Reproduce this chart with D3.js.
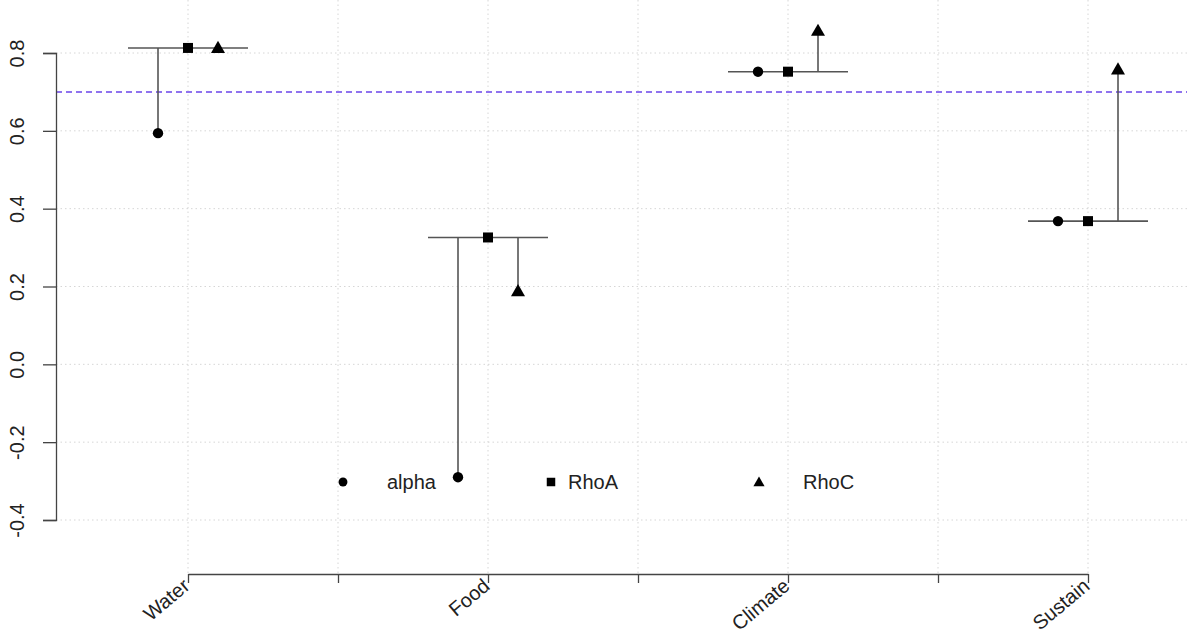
<!DOCTYPE html>
<html>
<head>
<meta charset="utf-8">
<script src="https://cdn.jsdelivr.net/npm/d3@7/dist/d3.min.js"></script>
<style>
  body { margin: 0; background: #fff; }
  svg { display: block; font-family: "Liberation Sans", Arial, sans-serif; }
</style>
</head>
<body>
<svg id="chart" width="1187" height="640"></svg>
<script>
const categories = ["Water", "Food", "Climate", "Sustain"];
const alpha = [0.594, -0.29, 0.752, 0.368];
const rhoA = [0.813, 0.326, 0.752, 0.368];
const rhoC = [0.813, 0.188, 0.857, 0.758];
const yTicks = [-0.4, -0.2, 0.0, 0.2, 0.4, 0.6, 0.8];
const xTicks = [1, 1.5, 2, 2.5, 3, 3.5, 4];
const threshold = 0.7;
const legendItems = [
  { label: "alpha", shape: "circle" },
  { label: "RhoA", shape: "square" },
  { label: "RhoC", shape: "triangle" }
];

const width = 1187, height = 640;
const svg = d3.select("#chart");

const x = d3.scaleLinear().domain([1, 4]).range([188, 1088]);
const y = d3.scaleLinear().domain([-0.4, 0.8]).range([520, 53]);
const axisY = 574, axisX = 56;

const symbols = {
  circle: d3.symbol().type(d3.symbolCircle).size(85),
  square: d3.symbol().type(d3.symbolSquare).size(100),
  triangle: d3.symbol().type(d3.symbolTriangle).size(85)
};

// grid
const grid = svg.append("g").attr("stroke", "#d6d6d6").attr("stroke-dasharray", "1.5,3");
grid.selectAll("line.h").data(yTicks).join("line")
  .attr("x1", axisX).attr("x2", width)
  .attr("y1", d => y(d)).attr("y2", d => y(d));
grid.selectAll("line.v").data(xTicks).join("line")
  .attr("x1", d => x(d)).attr("x2", d => x(d))
  .attr("y1", 0).attr("y2", axisY);

// threshold line
svg.append("line")
  .attr("x1", axisX).attr("x2", width)
  .attr("y1", y(threshold)).attr("y2", y(threshold))
  .attr("stroke", "#8f72ee").attr("stroke-width", 2).attr("stroke-dasharray", "6,4");

// y axis (R style hyphen minus)
const yAxis = svg.append("g").attr("transform", `translate(${axisX},0)`)
  .call(d3.axisLeft(y).tickValues(yTicks).tickSize(13).tickFormat(d => d.toFixed(1)));
yAxis.select(".domain").attr("stroke", "#444").attr("stroke-width", 1.3);
yAxis.selectAll(".tick line").attr("stroke", "#444").attr("stroke-width", 1.3);
yAxis.selectAll(".tick text")
  .attr("transform", "rotate(-90)")
  .attr("x", 0).attr("y", -32).attr("dy", 0)
  .attr("text-anchor", "middle")
  .attr("font-size", 20).attr("fill", "#222");

// x axis
const xAxis = svg.append("g").attr("transform", `translate(0,${axisY})`)
  .call(d3.axisBottom(x).tickValues(xTicks).tickSize(9).tickSizeOuter(0).tickFormat(() => ""));
xAxis.select(".domain").attr("stroke", "#444").attr("stroke-width", 1.3);
xAxis.selectAll(".tick line").attr("stroke", "#444").attr("stroke-width", 1.3);
svg.append("g").selectAll("text").data(categories).join("text")
  .attr("transform", (d, i) => `translate(${x(i + 1) + 3},${axisY + 14}) rotate(-40)`)
  .attr("text-anchor", "end")
  .attr("font-size", 20).attr("fill", "#222")
  .text(d => d);

// marks
const marks = svg.append("g");
categories.forEach((c, i) => {
  const cx = i + 1;
  const g = marks.append("g");
  g.append("line")
    .attr("x1", x(cx - 0.2)).attr("x2", x(cx + 0.2))
    .attr("y1", y(rhoA[i])).attr("y2", y(rhoA[i]))
    .attr("stroke", "#555").attr("stroke-width", 1.6);
  g.append("line")
    .attr("x1", x(cx - 0.1)).attr("x2", x(cx - 0.1))
    .attr("y1", y(rhoA[i])).attr("y2", y(alpha[i]))
    .attr("stroke", "#555").attr("stroke-width", 1.6);
  g.append("line")
    .attr("x1", x(cx + 0.1)).attr("x2", x(cx + 0.1))
    .attr("y1", y(rhoA[i])).attr("y2", y(rhoC[i]))
    .attr("stroke", "#555").attr("stroke-width", 1.6);
  g.append("path").attr("d", symbols.circle())
    .attr("transform", `translate(${x(cx - 0.1)},${y(alpha[i])})`);
  g.append("path").attr("d", symbols.square())
    .attr("transform", `translate(${x(cx)},${y(rhoA[i])})`);
  g.append("path").attr("d", symbols.triangle())
    .attr("transform", `translate(${x(cx + 0.1)},${y(rhoC[i]) + 1})`);
});

// legend
const legend = svg.append("g").attr("transform", "translate(343,482)");
const li = legend.selectAll("g").data(legendItems).join("g")
  .attr("transform", (d, i) => `translate(${i * 208},0)`);
li.append("path").attr("d", d => symbols[d.shape]())
  .attr("transform", d => d.shape === "triangle" ? "translate(0,1) scale(0.8)" : d.shape === "circle" ? "scale(0.85)" : "scale(0.85)");
li.append("text")
  .attr("x", (d, i) => i === 1 ? 17 : 44)
  .attr("dy", "0.35em")
  .attr("font-size", 20).attr("fill", "#222")
  .text(d => d.label);
</script>
</body>
</html>
